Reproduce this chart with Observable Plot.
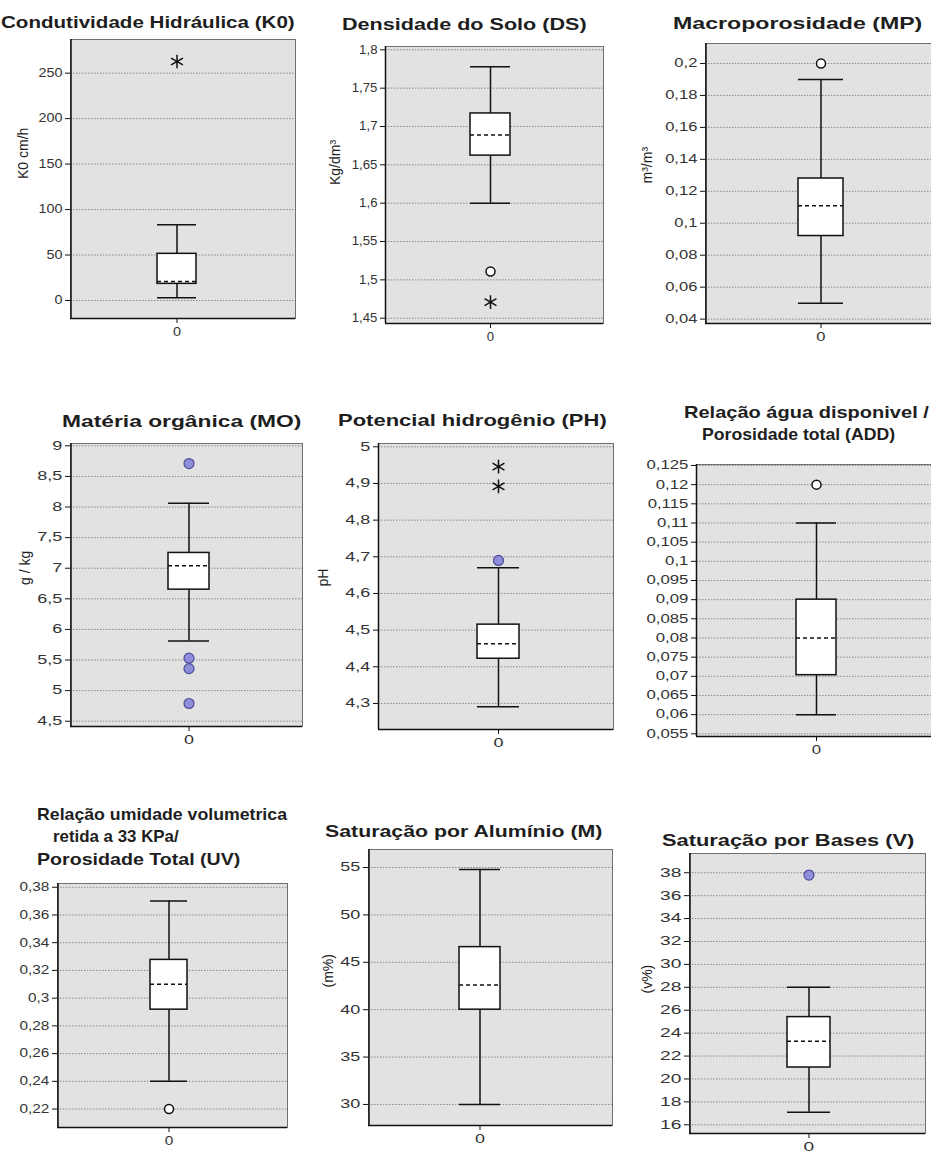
<!DOCTYPE html>
<html><head><meta charset="utf-8">
<script src="https://cdn.jsdelivr.net/npm/d3@7"></script>
<script src="https://cdn.jsdelivr.net/npm/@observablehq/plot@0.6"></script>
<style>
body{margin:0;background:#fff;}
#wrap{position:relative;width:931px;height:1153px;overflow:hidden;background:#fff;font-family:"Liberation Sans",Arial,sans-serif;}
.panel{position:absolute;}
.panel svg{overflow:visible;max-width:none !important;display:block;}
.title{position:absolute;white-space:nowrap;font-weight:bold;font-size:17px;line-height:1;color:#1e1e1e;transform-origin:0 50%;}
</style></head><body><div id="wrap"></div>
<script>
// ---------- data ----------
const panelIds = ["K0", "DS", "MP", "MO", "PH", "ADD", "UV", "M", "V"];
const titleTexts = [
  ["Condutividade Hidráulica (K0)"],
  ["Densidade do Solo (DS)"],
  ["Macroporosidade (MP)"],
  ["Matéria orgânica (MO)"],
  ["Potencial hidrogênio (PH)"],
  ["Relação água disponivel /", "Porosidade total (ADD)"],
  ["Relação umidade volumetrica", "retida a 33 KPa/", "Porosidade Total (UV)"],
  ["Saturação por Alumínio (M)"],
  ["Saturação por Bases (V)"]
];
const yLabels = ["K0 cm/h", "Kg/dm³", "m³/m³", "g / kg", "pH", "", "", "(m%)", "(v%)"];
const groupLabels = ["0"];
const whiskerLow  = [2.9, 1.6, 0.05, 5.81, 4.291, 0.06, 0.24, 30, 17.1];
const quartile1   = [18.3, 1.662, 0.092, 6.65, 4.422, 0.0703, 0.2917, 40, 21.0];
const medians     = [20.9, 1.689, 0.111, 7.04, 4.463, 0.08, 0.31, 42.6, 23.3];
const quartile3   = [51.3, 1.717, 0.128, 7.25, 4.515, 0.09, 0.3276, 46.6, 25.4];
const whiskerHigh = [83.2, 1.778, 0.19, 8.06, 4.67, 0.11, 0.37, 54.8, 28];
const openOutliers    = [[], [1.511], [0.2], [], [], [0.12], [0.22], [], []];
const filledOutliers  = [[], [], [], [8.71, 5.53, 5.36, 4.79], [4.69], [], [], [], [37.8]];
const extremeOutliers = [[262.8], [1.471], [], [], [4.946, 4.892], [], [], [], []];
const yTicks = [
  [0, 50, 100, 150, 200, 250],
  [1.45, 1.5, 1.55, 1.6, 1.65, 1.7, 1.75, 1.8],
  [0.04, 0.06, 0.08, 0.1, 0.12, 0.14, 0.16, 0.18, 0.2],
  [4.5, 5, 5.5, 6, 6.5, 7, 7.5, 8, 8.5, 9],
  [4.3, 4.4, 4.5, 4.6, 4.7, 4.8, 4.9, 5],
  [0.055, 0.06, 0.065, 0.07, 0.075, 0.08, 0.085, 0.09, 0.095, 0.1, 0.105, 0.11, 0.115, 0.12, 0.125],
  [0.22, 0.24, 0.26, 0.28, 0.3, 0.32, 0.34, 0.36, 0.38],
  [30, 35, 40, 45, 50, 55],
  [16, 18, 20, 22, 24, 26, 28, 30, 32, 34, 36, 38]
];
const yDomains = [
  [-19.8, 287], [1.4431, 1.8043], [0.03725, 0.2125], [4.414, 9.038], [4.229, 5.009],
  [0.0543, 0.12526], [0.2067, 0.3827], [27.78, 56.9], [15.24, 39.68]
];

// ---------- layout (page pixels) ----------
const frames = [[70,39,295,318],[385,46,603,323],[705,43,935,323],[70,443,302,726],[378,443,613,729],
                [696,464,935,736],[57,883,287,1127],[368,849,612,1125],[689,853,925,1133]];
const boxes = [[176,39],[490,40],[820,45],[188,41],[498,42],[816,40],[168,37],[479,41],[808,43]];
const tickStretch = [1.2, 1.1, 1.38, 1.5, 1.5, 1.4, 1.28, 1.5, 1.6];
const yLabelDx = [-47, -50, -58, -45, -55, 0, 0, -40, -42];
const titleLayout = [
  [[1, 294, 22]], [[342, 245, 24]], [[673, 249, 23]], [[62, 240, 420.5]], [[338, 269, 420]],
  [[684, 245, 412], [702, 193, 434]],
  [[37, 250, 814], [53, 126, 836], [37, 203, 858.5]],
  [[325, 277, 830.5]], [[662, 253, 840]]
];

const wrap = document.getElementById("wrap");
const fmt = d => String(+d.toFixed(6)).replace(".", ",");
const ML = 75, MT = 12, MR = 12, MB = 28;

panelIds.forEach((id, i) => {
  const [fl, ft, fr, fb] = frames[i];
  const fw = fr - fl, fh = fb - ft;
  const [cx, bw] = boxes[i];
  const svgLeft = fl - ML, svgTop = ft - MT;
  const W = fw + ML + MR, H = fh + MT + MB;
  const bx = cx - svgLeft;
  const g = groupLabels[0];
  const stat = [{g, lo: whiskerLow[i], q1: quartile1[i], med: medians[i], q3: quartile3[i], hi: whiskerHigh[i]}];
  const pts = arr => arr.map(v => ({g, v}));
  const marks = [
    Plot.frame({fill: "#e2e2e2", stroke: "#707070"}),
    Plot.ruleY(yTicks[i], {stroke: "#888", strokeDasharray: "1.5,1.5"}),
    Plot.ruleX(stat, {x: "g", y1: "lo", y2: "q1", stroke: "#111", strokeWidth: 1.5}),
    Plot.ruleX(stat, {x: "g", y1: "q3", y2: "hi", stroke: "#111", strokeWidth: 1.5}),
    Plot.tickY(stat, {x: "g", y: "lo", stroke: "#111", strokeWidth: 1.5}),
    Plot.tickY(stat, {x: "g", y: "hi", stroke: "#111", strokeWidth: 1.5}),
    Plot.barY(stat, {x: "g", y1: "q1", y2: "q3", fill: "white", stroke: "#111", strokeWidth: 1.5}),
    Plot.tickY(stat, {x: "g", y: "med", stroke: "#111", strokeWidth: 1.5, strokeDasharray: "4,3"}),
    Plot.dot(pts(openOutliers[i]), {x: "g", y: "v", r: 4.5, fill: "white", stroke: "#111", strokeWidth: 1.5}),
    Plot.dot(pts(filledOutliers[i]), {x: "g", y: "v", r: 5, fill: "#8e8edb", stroke: "#4c4c9a", strokeWidth: 1.2}),
    Plot.dot(pts(extremeOutliers[i]), {x: "g", y: "v", symbol: "asterisk", r: 6.5, stroke: "#111", strokeWidth: 1.5}),
    Plot.ruleY([yDomains[i][0]], {stroke: "#111", strokeWidth: 1.5}),
    Plot.ruleX(groupLabels, {dx: fl - cx, stroke: "#111", strokeWidth: 1.5})
  ];
  if (yLabels[i]) marks.push(Plot.text([yLabels[i]], {text: d => d, frameAnchor: "left", dx: yLabelDx[i], rotate: -90, fontSize: 14, fill: "#222"}));
  const svg = Plot.plot({
    width: W, height: H,
    marginLeft: ML, marginTop: MT, marginRight: MR, marginBottom: MB,
    style: {fontFamily: "Liberation Sans, Arial, sans-serif", fontSize: "12px", color: "#111", background: "transparent", overflow: "visible"},
    x: {type: "band", domain: groupLabels, range: [bx - bw / 2, bx + bw / 2], padding: 0, tickSize: 5, label: null},
    y: {domain: yDomains[i], ticks: yTicks[i], tickFormat: fmt, tickSize: 5, tickPadding: 3, label: null},
    marks
  });
  svg.style.width = W + "px";
  svg.style.height = H + "px";
  const div = document.createElement("div");
  div.className = "panel";
  div.style.left = svgLeft + "px";
  div.style.top = svgTop + "px";
  div.style.width = W + "px";
  div.style.height = H + "px";
  div.appendChild(svg);
  wrap.appendChild(div);
  // stretch tick labels horizontally like the reference
  const s = tickStretch[i];
  svg.querySelectorAll('g[aria-label^="y-axis"] text').forEach(t => {
    const b = t.getBBox(); const rx = b.x + b.width;
    const tr = t.getAttribute("transform") || "";
    t.setAttribute("transform", `${tr} translate(${rx},0) scale(${s},1) translate(${-rx},0)`);
    t.setAttribute("fill", "#333");
  });
  svg.querySelectorAll('g[aria-label^="x-axis"] text').forEach(t => {
    const b = t.getBBox(); const mx = b.x + b.width / 2;
    const tr = t.getAttribute("transform") || "";
    t.setAttribute("transform", `${tr} translate(${mx},0) scale(${s},1) translate(${-mx},0)`);
    t.setAttribute("fill", "#333");
  });
  // titles
  titleTexts[i].forEach((line, j) => {
    const [left, w, cy] = titleLayout[i][j];
    const t = document.createElement("div");
    t.className = "title";
    t.textContent = line;
    t.style.left = left + "px";
    t.style.top = cy + "px";
    wrap.appendChild(t);
    const nat = t.offsetWidth;
    t.style.transform = `translateY(-50%) scaleX(${w / nat})`;
  });
});
</script></body></html>
